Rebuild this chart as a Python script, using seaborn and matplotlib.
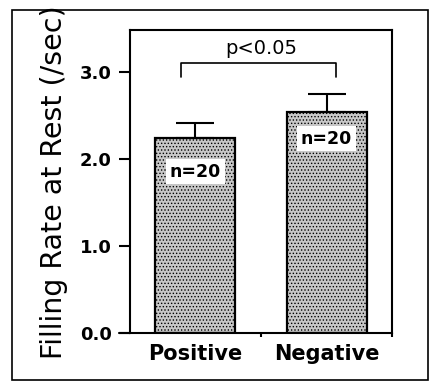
import matplotlib
matplotlib.use('Agg')
import matplotlib.pyplot as plt
import seaborn as sns
import pandas as pd
from matplotlib.patches import Rectangle
from matplotlib.ticker import FixedLocator

# datos
grupos = ['Positive', 'Negative']
medias = [2.24, 2.54]
errores = [0.17, 0.21]
etiquetas_n = ['n=20', 'n=20']
y_etiqueta_n = [1.85, 2.23]
texto_p = 'p<0.05'

df = pd.DataFrame({'Grupo': grupos, 'Media': medias})

sns.set_style('white')
plt.rcParams['font.family'] = ['DejaVu Sans']
plt.rcParams['text.color'] = 'black'
plt.rcParams['axes.labelcolor'] = 'black'
plt.rcParams['xtick.color'] = 'black'
plt.rcParams['ytick.color'] = 'black'
plt.rcParams['hatch.color'] = '#6e6e6e'
plt.rcParams['hatch.linewidth'] = 0.6

fig = plt.figure(figsize=(4.30, 3.89), dpi=100)
ax = fig.add_axes([0.302, 0.144, 0.610, 0.779])

sns.barplot(data=df, x='Grupo', y='Media', ax=ax, color='#c8c8c8',
            width=0.61, errorbar=None, edgecolor='black', linewidth=1.6,
            saturation=1)
for p in ax.patches:
    p.set_hatch('.....')

# barras de error solo hacia arriba
ax.errorbar(range(len(grupos)), medias, yerr=[[0] * len(errores), errores],
            fmt='none', ecolor='black', elinewidth=1.5, capsize=14,
            capthick=1.5, zorder=1)

# etiquetas n
for i, (t, yy) in enumerate(zip(etiquetas_n, y_etiqueta_n)):
    ax.text(i, yy, t, ha='center', va='center', fontsize=12.5,
            fontweight='bold', color='black',
            bbox=dict(facecolor='white', edgecolor='none', pad=2.5))

# corchete de significancia
ax.plot([-0.11, -0.11, 1.07, 1.07], [2.94, 3.10, 3.10, 2.94],
        color='black', linewidth=1.2, clip_on=False)
ax.text(0.5, 3.27, texto_p, ha='center', va='center', fontsize=14,
        fontweight='medium', color='black')

ax.set_xlim(-0.5, 1.5)
ax.set_ylim(0, 3.48)
ax.set_yticks([0, 1, 2, 3])
ax.set_yticklabels(['0.0', '1.0', '2.0', '3.0'], fontsize=13,
                   fontweight='bold')
ax.set_xticklabels(grupos, fontsize=15, fontweight='bold')
ax.xaxis.set_minor_locator(FixedLocator([0.5, 1.5]))
ax.tick_params(axis='y', direction='out', length=8, width=1.5, left=True,
               pad=5, colors='black')
ax.tick_params(axis='x', which='major', length=0, pad=8, colors='black')
ax.tick_params(axis='x', which='minor', direction='out', length=3,
               width=1.5, bottom=True, colors='black')
for s in ax.spines.values():
    s.set_visible(True)
    s.set_color('black')
    s.set_linewidth(1.5)

ax.set_xlabel('')
ax.set_ylabel('Filling Rate at Rest (/sec)', fontsize=20.5, color='black')
ax.yaxis.set_label_coords(-0.235, 0.497)

# linea base extendida a la izquierda
ax.plot([-0.58, -0.5], [0, 0], color='black', linewidth=1.5, clip_on=False)

# marco exterior
fig.patches.append(Rectangle((0.028, 0.023), 0.967, 0.951,
                             transform=fig.transFigure, fill=False,
                             edgecolor='black', linewidth=1.2))

fig.savefig('out.png', dpi=100, facecolor='white')
